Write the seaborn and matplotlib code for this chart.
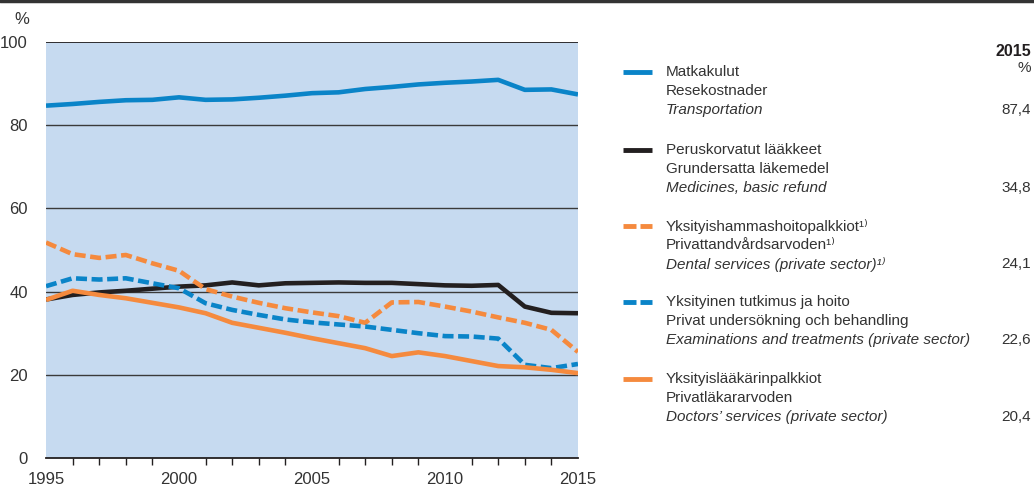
import numpy as np
import pandas as pd
import seaborn as sns
import matplotlib
matplotlib.use("Agg")
import matplotlib.pyplot as plt
from matplotlib import font_manager
from matplotlib.lines import Line2D

years = list(range(1995, 2016))
transportation = [84.7, 85.1, 85.6, 86.0, 86.1, 86.7, 86.1, 86.2, 86.6, 87.1, 87.7,
                  87.9, 88.7, 89.2, 89.8, 90.2, 90.5, 90.9, 88.5, 88.6, 87.4]
medicines = [38.1, 39.2, 39.8, 40.2, 40.7, 41.2, 41.5, 42.2, 41.5, 42.0, 42.1,
             42.2, 42.1, 42.1, 41.8, 41.5, 41.4, 41.6, 36.4, 34.9, 34.8]
dental = [51.8, 49.0, 48.1, 48.8, 46.8, 45.0, 40.6, 38.8, 37.3, 36.0, 35.0,
          34.1, 32.5, 37.4, 37.5, 36.4, 35.2, 33.8, 32.5, 30.8, 25.5]
examinations = [41.3, 43.2, 42.9, 43.2, 42.0, 40.8, 37.2, 35.6, 34.4, 33.3, 32.6,
                32.1, 31.6, 30.8, 30.0, 29.3, 29.2, 28.7, 22.4, 21.6, 22.6]
doctors = [38.0, 40.2, 39.2, 38.4, 37.3, 36.2, 34.8, 32.5, 31.3, 30.1, 28.8,
           27.6, 26.4, 24.5, 25.4, 24.5, 23.3, 22.1, 21.8, 21.2, 20.4]

series_fi = ["Matkakulut", "Peruskorvatut lääkkeet", "Yksityishammashoitopalkkiot\u00b9\u207e",
             "Yksityinen tutkimus ja hoito", "Yksityislääkärinpalkkiot"]
series_sv = ["Resekostnader", "Grundersatta läkemedel", "Privattandvårdsarvoden\u00b9\u207e",
             "Privat undersökning och behandling", "Privatläkararvoden"]
series_en = ["Transportation", "Medicines, basic refund", "Dental services (private sector)\u00b9\u207e",
             "Examinations and treatments (private sector)", "Doctors\u2019 services (private sector)"]
values_2015 = ["87,4", "34,8", "24,1", "22,6", "20,4"]
yticks = [0, 20, 40, 60, 80, 100]
xticks_major = [1995, 2000, 2005, 2010, 2015]

BLUE = "#0a84c8"
ORANGE = "#f58a3e"
BLACK = "#231f20"
BG = "#c6daf0"
TXT = "#333333"
colors = [BLUE, BLACK, ORANGE, BLUE, ORANGE]
dashed = [False, False, True, True, False]

sns.set_theme(style="white")
avail = {f.name for f in font_manager.fontManager.ttflist}
main_font = "Liberation Sans Narrow" if "Liberation Sans Narrow" in avail else "Liberation Sans"
plt.rcParams["font.family"] = [main_font, "DejaVu Sans"]

all_series = [transportation, medicines, dental, examinations, doctors]
df = pd.DataFrame({"year": years * 5,
                   "value": sum(all_series, []),
                   "series": sum([[s] * len(years) for s in series_en], [])})

W, H = 1034, 490
fig = plt.figure(figsize=(W / 100, H / 100), dpi=100)
ax = fig.add_axes([46 / W, 1 - 458 / H, (578 - 46) / W, (458 - 42) / H])
ax.set_facecolor(BG)

LW = 3.3
for name, col, dsh in zip(series_en, colors, dashed):
    sub = df[df["series"] == name]
    sns.lineplot(data=sub, x="year", y="value", ax=ax, color=col, linewidth=LW,
                 legend=False, estimator=None)
    line = ax.get_lines()[-1]
    line.set_solid_capstyle("butt")
    if dsh:
        line.set_dashes((2.4, 1.0))
        line.set_dash_capstyle("butt")

ax.set_xlim(1995, 2015)
ax.set_ylim(0, 100)
for y in yticks[1:]:
    ax.axhline(y, color="#3a3a3a" if y < 100 else BLACK, lw=1.0 if y < 100 else 1.3, zorder=1)
ax.set_yticks(yticks)
ax.set_yticklabels([str(v) for v in yticks], fontsize=12, color=TXT)
ax.set_xticks(years, minor=True)
ax.set_xticks(xticks_major)
ax.set_xticklabels([str(v) for v in xticks_major], fontsize=12, color=TXT)
ax.tick_params(axis="y", length=0, pad=13)
ax.tick_params(axis="x", which="major", length=8, width=1.0, color=BLACK, direction="out", pad=2)
ax.tick_params(axis="x", which="minor", length=5, width=1.0, color=BLACK, direction="out", bottom=True)
for s in ["left", "right", "top"]:
    ax.spines[s].set_visible(False)
ax.spines["bottom"].set_color(BLACK)
ax.spines["bottom"].set_linewidth(1.3)
ax.set_xlabel("")
ax.set_ylabel("")
ax.grid(False)

fig.text(22 / W, 1 - 20 / H, "%", fontsize=12, color=TXT, ha="center", va="center")

# top rule
fig.add_artist(Line2D([0, 1], [1 - 1.5 / H, 1 - 1.5 / H], color=TXT, lw=2.5, transform=fig.transFigure))

# legend panel
FS = 11
fig.text(1031 / W, 1 - 52 / H, "2015", fontsize=11.5, fontweight="bold", color=BLACK, ha="right", va="center")
fig.text(1031 / W, 1 - 68 / H, "%", fontsize=FS, color=TXT, ha="right", va="center")
row_y = [72, 150, 226, 302, 379]
for i in range(5):
    y0 = row_y[i]
    if dashed[i]:
        segs = [(623, 636), (640, 652)]
    else:
        segs = [(623, 652)]
    for a, b in segs:
        fig.add_artist(Line2D([a / W, b / W], [1 - y0 / H, 1 - y0 / H], color=colors[i], lw=3.5,
                              solid_capstyle="butt", transform=fig.transFigure))
    fig.text(666 / W, 1 - y0 / H, series_fi[i], fontsize=FS, color=TXT, ha="left", va="center")
    fig.text(666 / W, 1 - (y0 + 19) / H, series_sv[i], fontsize=FS, color=TXT, ha="left", va="center")
    fig.text(666 / W, 1 - (y0 + 38) / H, series_en[i], fontsize=FS, style="italic", color=TXT,
             ha="left", va="center")
    fig.text(1031 / W, 1 - (y0 + 38) / H, values_2015[i], fontsize=FS, color=TXT, ha="right", va="center")

fig.savefig("out.png", dpi=100, facecolor="white")
